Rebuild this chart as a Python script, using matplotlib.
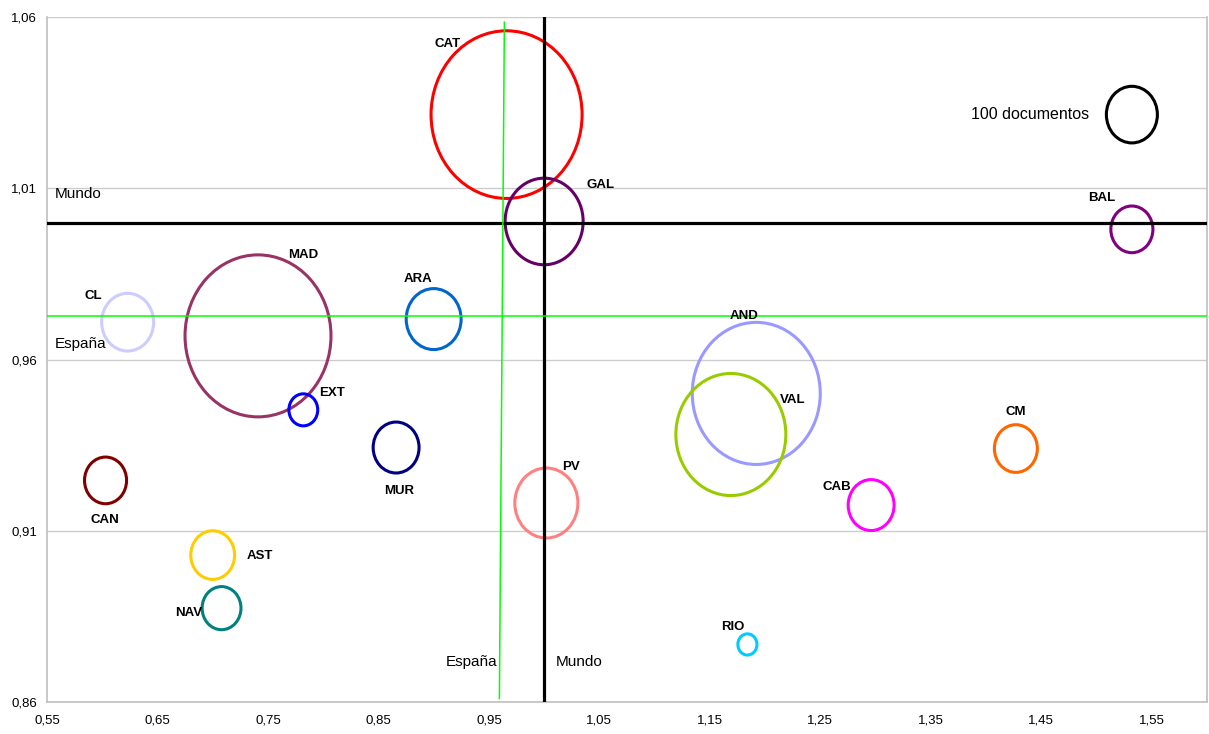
import matplotlib
matplotlib.use("Agg")
import matplotlib.pyplot as plt
from matplotlib.patches import Ellipse
import numpy as np

# ---------------- data ----------------
regions = ["CAT", "GAL", "BAL", "MAD", "CL", "EXT", "CAN", "AST", "NAV",
           "ARA", "MUR", "PV", "AND", "VAL", "CM", "CAB", "RIO"]
x_vals = [0.966, 1.000, 1.532, 0.741, 0.623, 0.782, 0.603, 0.700, 0.708,
          0.900, 0.866, 1.002, 1.192, 1.169, 1.427, 1.296, 1.184]
y_vals = [1.0315, 1.0003, 0.998, 0.9669, 0.9709, 0.9453, 0.9247, 0.9029, 0.8874,
          0.9718, 0.9343, 0.9181, 0.9501, 0.9381, 0.934, 0.9175, 0.8768]
docs = [877, 234, 68, 819, 104, 32, 68, 74, 58,
        116, 81, 153, 630, 465, 71, 81, 14]

ref_label = "100 documentos"
ref_docs = 100
ref_x, ref_y = 1.532, 1.0315

mundo_x, mundo_y = 1.00, 1.00
espana_y = 0.9727
espana_x_line = [0.9595, 0.964]
espana_y_line = [0.861, 1.0585]

x_ticks = [0.55, 0.65, 0.75, 0.85, 0.95, 1.05, 1.15, 1.25, 1.35, 1.45, 1.55]
x_tick_labels = ["0,55", "0,65", "0,75", "0,85", "0,95", "1,05", "1,15", "1,25", "1,35", "1,45", "1,55"]
y_ticks = [0.86, 0.91, 0.96, 1.01, 1.06]
y_tick_labels = ["0,86", "0,91", "0,96", "1,01", "1,06"]

# ---------------- style ----------------
colors = ["#ff0000", "#660066", "#800080", "#993366", "#ccccff", "#0000ff",
          "#800000", "#ffcc00", "#008080", "#0066cc", "#000080", "#ff8080",
          "#9999ff", "#99cc00", "#ff6600", "#ff00ff", "#00ccff"]
# label offsets from bubble centre, in pixels (right, down)
label_offsets = [(-59, -71), (56, -36), (-30, -31), (45, -81), (-34, -26), (29, -17),
                 (-1, 40), (47, 1), (-33, 5), (-16, -40), (3, 43), (25, -36),
                 (-12, -77), (62, -35), (0, -37), (-34, -18), (-15, -17)]

plt.rcParams["font.family"] = ["Liberation Sans", "DejaVu Sans"]

W, H = 1209, 734
fig = plt.figure(figsize=(W / 100, H / 100), dpi=100)
ax_l, ax_r, ax_t, ax_b = 47, 1207, 17, 702
ax = fig.add_axes([ax_l / W, (H - ax_b) / H, (ax_r - ax_l) / W, (ax_b - ax_t) / H])
xmin, xmax, ymin, ymax = 0.55, 1.60, 0.86, 1.06
ax.set_xlim(xmin, xmax)
ax.set_ylim(ymin, ymax)

px_per_x = (ax_r - ax_l) / (xmax - xmin)
px_per_y = (ax_b - ax_t) / (ymax - ymin)
ASPECT = 1.11
BASE_D = 51.0  # px diameter for 100 documents


def bubble(x, y, d, color):
    dpx = BASE_D * np.sqrt(d / 100.0)
    e = Ellipse((x, y), width=dpx / px_per_x, height=dpx * ASPECT / px_per_y,
                fill=False, edgecolor=color, lw=2.2, zorder=2)
    ax.add_patch(e)
    return dpx


for name, x, y, d, c, (dx, dy) in zip(regions, x_vals, y_vals, docs, colors, label_offsets):
    bubble(x, y, d, c)
    ax.annotate(name, (x, y), xytext=(dx * 0.72, -dy * 0.72), textcoords="offset points",
                ha="center", va="center", fontsize=9.5, fontweight="bold", color="black",
                zorder=5)

# reference bubble
bubble(ref_x, ref_y, ref_docs, "black")
ax.annotate(ref_label, (ref_x, ref_y), xytext=(-43 * 0.72, 0), textcoords="offset points",
            ha="right", va="center", fontsize=11.5, color="black")

# reference lines
ax.axhline(mundo_y, color="black", lw=2.3, zorder=3)
ax.axvline(mundo_x, color="black", lw=2.3, zorder=3)
ax.axhline(espana_y, color="#00ff00", lw=1.1, zorder=3)
ax.plot(espana_x_line, espana_y_line, color="#00ff00", lw=1.1, zorder=3)

# line labels
ax.annotate("Mundo", (xmin, mundo_y), xytext=(8 * 0.72, 28 * 0.72), textcoords="offset points",
            ha="left", va="center", fontsize=11)
ax.annotate("España", (xmin, espana_y), xytext=(8 * 0.72, -28 * 0.72), textcoords="offset points",
            ha="left", va="center", fontsize=11)
ax.annotate("España", (espana_x_line[0], ymin), xytext=(-2 * 0.72, 40 * 0.72), textcoords="offset points",
            ha="right", va="center", fontsize=11)
ax.annotate("Mundo", (mundo_x, ymin), xytext=(12 * 0.72, 40 * 0.72), textcoords="offset points",
            ha="left", va="center", fontsize=11)

# axes styling
ax.set_xticks(x_ticks)
ax.set_xticklabels(x_tick_labels)
ax.set_yticks(y_ticks)
ax.set_yticklabels(y_tick_labels)
ax.tick_params(axis="both", length=0, labelsize=9.5, colors="black")
ax.tick_params(axis="x", pad=9)
ax.tick_params(axis="y", pad=7)
ax.yaxis.grid(True, color="#cccccc", lw=1.0, zorder=0)
ax.xaxis.grid(False)
ax.set_axisbelow(True)
for s in ["left", "bottom", "right"]:
    ax.spines[s].set_color("#bfbfbf")
    ax.spines[s].set_linewidth(1.2)
ax.spines["top"].set_visible(False)

fig.savefig("out.png", dpi=100, facecolor="white")
